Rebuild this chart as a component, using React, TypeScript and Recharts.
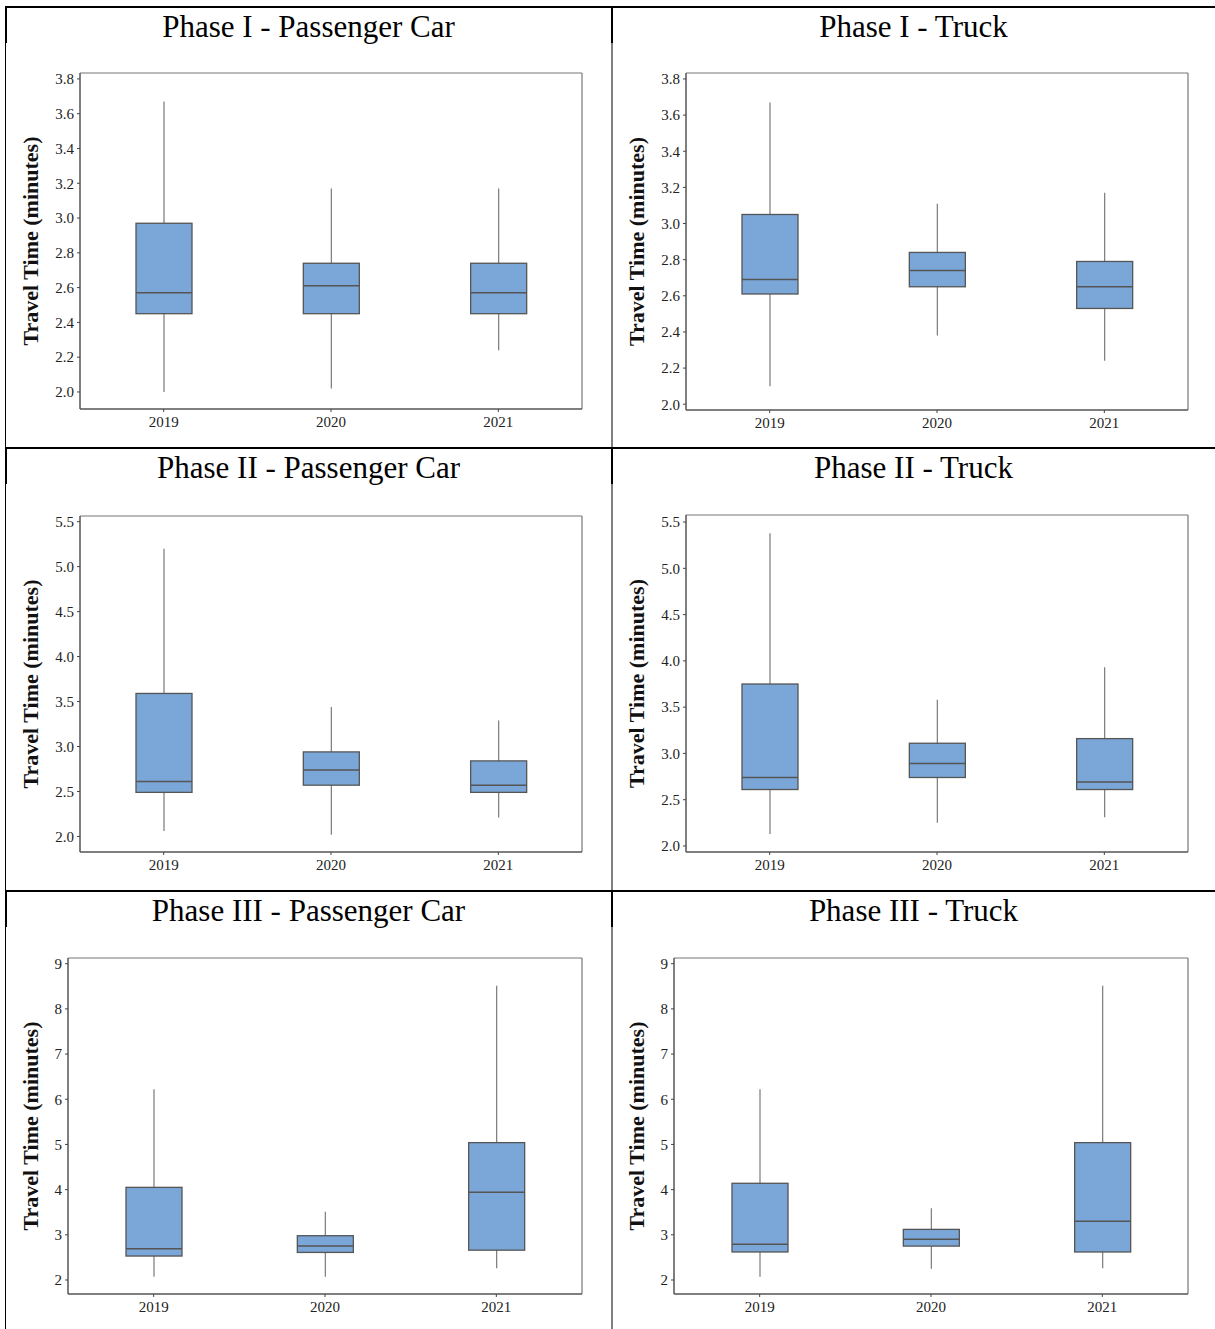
import React from "react";
import { ComposedChart, Bar, XAxis, YAxis, CartesianGrid } from "recharts";

// ---------- data ----------
const years = ["2019", "2020", "2021"];
// five-number summaries per year: [min, q1, median, q3, max]
const phaseICar = [
  [2.0, 2.45, 2.57, 2.97, 3.67],
  [2.02, 2.45, 2.61, 2.74, 3.17],
  [2.24, 2.45, 2.57, 2.74, 3.17],
];
const phaseITruck = [
  [2.1, 2.61, 2.69, 3.05, 3.67],
  [2.38, 2.65, 2.74, 2.84, 3.11],
  [2.24, 2.53, 2.65, 2.79, 3.17],
];
const phaseIICar = [
  [2.06, 2.49, 2.61, 3.59, 5.2],
  [2.02, 2.57, 2.74, 2.94, 3.44],
  [2.21, 2.49, 2.57, 2.84, 3.29],
];
const phaseIITruck = [
  [2.13, 2.61, 2.74, 3.75, 5.38],
  [2.25, 2.74, 2.89, 3.11, 3.58],
  [2.31, 2.61, 2.69, 3.16, 3.93],
];
const phaseIIICar = [
  [2.07, 2.53, 2.69, 4.05, 6.22],
  [2.07, 2.61, 2.75, 2.98, 3.51],
  [2.26, 2.66, 3.94, 5.04, 8.51],
];
const phaseIIITruck = [
  [2.07, 2.62, 2.79, 4.14, 6.22],
  [2.25, 2.75, 2.9, 3.12, 3.59],
  [2.26, 2.62, 3.3, 5.04, 8.51],
];
const ticksI = [2.0, 2.2, 2.4, 2.6, 2.8, 3.0, 3.2, 3.4, 3.6, 3.8];
const ticksII = [2.0, 2.5, 3.0, 3.5, 4.0, 4.5, 5.0, 5.5];
const ticksIII = [2, 3, 4, 5, 6, 7, 8, 9];
const titles = [
  "Phase I - Passenger Car",
  "Phase I - Truck",
  "Phase II - Passenger Car",
  "Phase II - Truck",
  "Phase III - Passenger Car",
  "Phase III - Truck",
];
const yLabel = "Travel Time (minutes)";

// ---------- layout ----------
const FONT = '"Liberation Serif", "Times New Roman", serif';
const COL_LEFT = [0, 606];
const COL_CENTER = [308.5, 913.5];
const ROW_LINE = [6, 447, 890];
const TITLE_BASE = [36.5, 477.7, 920.7];

const panels = [
  { stats: phaseICar, domain: [1.902, 3.834], ticks: ticksI, dec: 1, col: 0, row: 0, plot: { l: 80, r: 582, t: 73, b: 409 } },
  { stats: phaseITruck, domain: [1.968, 3.833], ticks: ticksI, dec: 1, col: 1, row: 0, plot: { l: 686, r: 1188, t: 73, b: 410 } },
  { stats: phaseIICar, domain: [1.827, 5.563], ticks: ticksII, dec: 1, col: 0, row: 1, plot: { l: 80, r: 582, t: 516, b: 852 } },
  { stats: phaseIITruck, domain: [1.935, 5.576], ticks: ticksII, dec: 1, col: 1, row: 1, plot: { l: 686, r: 1188, t: 515, b: 852 } },
  { stats: phaseIIICar, domain: [1.69, 9.126], ticks: ticksIII, dec: 0, col: 0, row: 2, plot: { l: 68, r: 582, t: 958, b: 1294 } },
  { stats: phaseIIITruck, domain: [1.69, 9.126], ticks: ticksIII, dec: 0, col: 1, row: 2, plot: { l: 674, r: 1188, t: 958, b: 1294 } },
];

const BOX_FILL = "#7ba7d8";
const BOX_STROKE = "#555555";
const WHISKER = "#7a7a7a";

function BoxShape(props: any) {
  const { x, y, width, height, payload } = props;
  if (!payload) return null;
  const { min, q1, med, q3, max } = payload;
  const span = max - min;
  const py = (v: number) => y + ((max - v) / span) * height;
  const cx = x + width / 2;
  return (
    <g>
      <line x1={cx} x2={cx} y1={py(max)} y2={py(min)} stroke={WHISKER} strokeWidth={1.2} />
      <rect x={x} y={py(q3)} width={width} height={py(q1) - py(q3)} fill={BOX_FILL} stroke={BOX_STROKE} strokeWidth={1.3} />
      <line x1={x} x2={x + width} y1={py(med)} y2={py(med)} stroke={BOX_STROKE} strokeWidth={1.5} />
    </g>
  );
}

function YLabel(props: any) {
  const { lx, ly } = props;
  return (
    <text
      x={lx}
      y={ly}
      transform={`rotate(-90, ${lx}, ${ly})`}
      textAnchor="middle"
      fontFamily={FONT}
      fontWeight="bold"
      fontSize={22}
      fill="#111"
    >
      {yLabel}
    </text>
  );
}

function Panel({ p }: { p: any }) {
  const chartLeft = COL_LEFT[p.col];
  const mTop = 10;
  const mRight = 10;
  const mBottom = 5;
  const xAxisH = 30;
  const yAxisW = p.plot.l - chartLeft;
  const width = p.plot.r - chartLeft + mRight;
  const height = p.plot.b - p.plot.t + mTop + mBottom + xAxisH;
  const data = years.map((yr, i) => {
    const [min, q1, med, q3, max] = p.stats[i];
    return { year: yr, min, q1, med, q3, max, range: [min, max] };
  });
  const tickStyle = { fontFamily: FONT, fontSize: 15, fill: "#222" };
  return (
    <div style={{ position: "absolute", left: chartLeft, top: p.plot.t - mTop, width, height }}>
      <ComposedChart
        width={width}
        height={height}
        data={data}
        margin={{ top: mTop, right: mRight, bottom: mBottom, left: 0 }}
      >
        <CartesianGrid
          stroke="#777"
          strokeWidth={1.2}
          horizontalCoordinatesGenerator={(a: any) => [a.offset.top]}
          verticalCoordinatesGenerator={(a: any) => [a.offset.left + a.offset.width]}
        />
        <XAxis
          dataKey="year"
          tick={tickStyle}
          tickSize={3}
          tickMargin={4}
          tickLine={{ stroke: "#444" }}
          axisLine={{ stroke: "#555", strokeWidth: 1.5 }}
          height={xAxisH}
          interval={0}
        />
        <YAxis
          type="number"
          domain={p.domain}
          allowDataOverflow
          ticks={p.ticks}
          interval={0}
          tickFormatter={(v: number) => v.toFixed(p.dec)}
          tick={tickStyle}
          tickSize={3}
          tickMargin={3}
          tickLine={{ stroke: "#444" }}
          axisLine={{ stroke: "#555", strokeWidth: 1.5 }}
          width={yAxisW}
          label={<YLabel lx={38} ly={mTop + (p.plot.b - p.plot.t) / 2} />}
        />
        <Bar dataKey="range" barSize={56} shape={<BoxShape />} isAnimationActive={false} />
      </ComposedChart>
    </div>
  );
}

export default function App() {
  return (
    <div style={{ position: "absolute", left: 0, top: 0, width: 1215, height: 1329, background: "#fff", overflow: "hidden" }}>
      {panels.map((p, i) => (
        <Panel key={i} p={p} />
      ))}
      <svg width={1215} height={1329} style={{ position: "absolute", left: 0, top: 0, pointerEvents: "none" }}>
        {ROW_LINE.map((y, r) => (
          <g key={r}>
            <rect x={5} y={y} width={1210} height={2} fill="#000" />
            <rect x={5} y={y} width={2} height={37} fill="#000" />
            <rect x={611} y={y} width={2} height={37} fill="#000" />
          </g>
        ))}
        <rect x={5} y={6} width={1} height={1323} fill="#000" />
        <rect x={611.5} y={6} width={1} height={1323} fill="#000" />
        {titles.map((t, i) => (
          <text
            key={i}
            x={COL_CENTER[i % 2]}
            y={TITLE_BASE[Math.floor(i / 2)]}
            textAnchor="middle"
            fontFamily={FONT}
            fontSize={31}
            fill="#000"
          >
            {t}
          </text>
        ))}
      </svg>
    </div>
  );
}
